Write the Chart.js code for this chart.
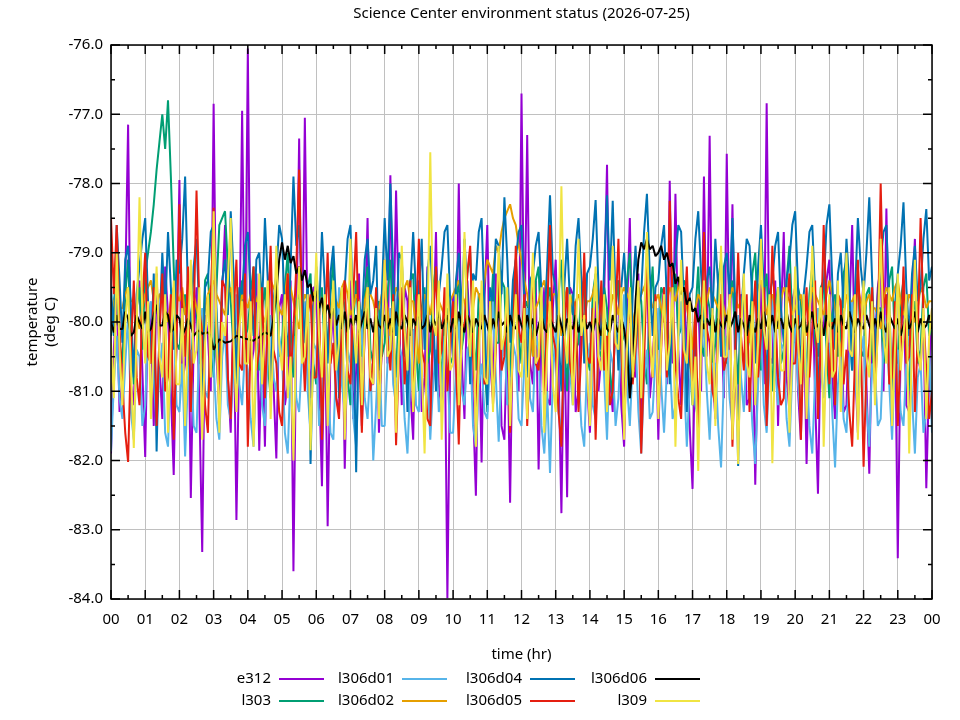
<!DOCTYPE html>
<html>
<head>
<meta charset="utf-8">
<script src="https://cdn.jsdelivr.net/npm/chart.js@4.4.1/dist/chart.umd.min.js"></script>
<style>
  body { margin: 0; background: #fff; }
  canvas { display: block; }
</style>
</head>
<body>
<canvas id="envChart" width="960" height="720"></canvas>
<script>
// sample times in hours, one reading every 5 minutes
const times = Array.from({ length: 289 }, (_, i) => i / 12);

const seriesNames = ['e312', 'l303', 'l306d01', 'l306d02', 'l306d04', 'l306d05', 'l306d06', 'l309'];
const seriesColors = ['#9400d3', '#009e73', '#56b4e9', '#e69f00', '#0072b2', '#e51e10', '#000000', '#f0e442'];

const e312 = [
  -81.9, -80.4, -79.6, -81.3, -80.8, -79.5, -77.15, -80.9, -81.2, -79.8, -79.4, -80.7, -81.95, -79.7, -80.1, -81.5, -79.3, -80.6, -81.4, -79.2, -79.9, -81.0, -82.21, -80.2,
  -77.95, -80.9, -80.6, -79.4, -82.54, -80.3, -79.5, -81.2, -83.32, -79.9, -80.2, -81.0, -76.85, -80.5, -81.3, -79.6, -78.6, -80.8, -81.6, -79.7, -82.86, -80.4, -76.95, -80.6,
  -76.05, -80.7, -80.4, -79.3, -81.86, -80.2, -81.8, -79.5, -79.2, -80.9, -81.97, -79.8, -79.6, -81.2, -80.9, -79.4, -83.6, -80.1, -77.35, -80.6, -77.05, -80.3, -81.1, -79.5,
  -79.5, -80.8, -82.37, -79.7, -82.95, -80.4, -79.8, -81.1, -81.3, -79.6, -82.12, -80.2, -79.4, -81.4, -80.7, -79.3, -81.5, -80.1, -78.5, -80.9, -80.9, -79.6, -81.6, -80.3,
  -79.3, -80.6, -77.88, -80.4, -78.1, -79.9, -81.2, -79.5, -79.7, -81.0, -81.7, -79.6, -79.4, -81.3, -80.8, -79.2, -81.5, -80.3, -78.7, -80.9, -81.3, -79.8, -83.99, -80.5,
  -79.6, -80.8, -78.0, -80.5, -81.4, -79.4, -80.2, -81.2, -82.51, -80.0, -82.03, -79.7, -78.6, -80.6, -81.1, -79.3, -79.8, -81.5, -81.7, -80.1, -82.61, -79.9, -79.2, -81.0,
  -76.7, -80.3, -77.3, -80.6, -80.9, -79.4, -82.13, -80.2, -79.5, -81.1, -81.2, -79.8, -79.1, -80.7, -82.76, -80.0, -82.53, -79.5, -79.6, -81.3, -81.0, -79.7, -79.3, -80.9,
  -81.6, -80.2, -79.7, -81.0, -80.5, -79.6, -77.73, -80.8, -81.3, -79.5, -79.4, -81.2, -81.8, -79.9, -78.5, -80.7, -80.8, -79.3, -81.5, -80.1, -79.0, -81.1, -80.6, -79.8,
  -81.7, -80.0, -79.5, -80.9, -77.96, -80.6, -78.15, -80.4, -81.2, -79.6, -80.3, -81.5, -82.41, -80.2, -79.6, -81.0, -77.9, -80.5, -77.31, -80.7, -81.4, -79.5, -79.8, -81.1,
  -77.57, -80.4, -78.3, -80.8, -81.6, -79.6, -79.7, -81.2, -81.1, -79.9, -82.35, -80.3, -79.4, -80.9, -76.84, -80.5, -80.6, -79.4, -81.5, -80.0, -78.7, -80.8, -81.3, -79.7,
  -79.5, -81.0, -81.7, -79.8, -82.05, -80.4, -79.3, -81.1, -82.48, -80.2, -80.1, -79.4, -79.1, -80.8, -81.4, -79.6, -79.8, -81.3, -81.2, -79.9, -78.6, -80.6, -81.6, -80.0,
  -79.4, -80.9, -82.19, -80.1, -80.3, -79.5, -79.2, -81.0, -78.36, -80.6, -81.5, -79.8, -83.41, -80.3, -79.6, -81.2, -81.3, -79.7, -78.8, -80.5, -80.7, -79.9, -82.4, -80.8,
  -79.8
];

const l303 = [
  -80.2, -79.7, -79.4, -80.3, -80.6, -79.6, -79.1, -80.2, -80.9, -79.8, -79.5, -80.4, -79.3, -79.0, -78.7, -78.3, -77.8, -77.4, -77.0, -77.5, -76.8, -77.9, -79.2, -80.3,
  -80.4, -79.9, -79.6, -80.5, -81.0, -79.7, -79.8, -80.6, -80.5, -79.4, -79.3, -80.1, -80.8, -79.5, -78.6, -78.5, -78.4, -79.2, -79.7, -80.4, -80.6, -79.8, -79.4, -80.2,
  -80.1, -79.6, -79.2, -80.3, -80.7, -79.8, -79.5, -80.6, -81.1, -79.9, -79.4, -80.5, -80.3, -79.5, -79.0, -80.2, -80.8, -79.7, -79.6, -80.4, -80.2, -79.5, -79.3, -80.6,
  -80.9, -79.9, -79.5, -80.5, -80.4, -79.6, -79.1, -80.3, -80.7, -79.5, -79.8, -80.8, -81.2, -80.0, -79.4, -80.2, -80.5, -79.6, -79.2, -80.4, -80.6, -79.8, -79.7, -80.5,
  -80.3, -79.6, -79.1, -80.2, -80.8, -79.7, -79.6, -80.5, -80.2, -79.4, -79.3, -80.4, -81.0, -79.8, -79.5, -80.6, -80.4, -79.5, -79.2, -80.1, -80.9, -79.9, -79.8, -80.6,
  -80.5, -79.7, -79.4, -80.4, -80.1, -79.3, -79.0, -80.2, -80.7, -79.6, -79.6, -80.5, -81.3, -80.1, -79.3, -80.3, -80.3, -79.4, -79.5, -80.6, -80.8, -79.7, -79.1, -80.2,
  -80.6, -79.8, -79.7, -80.5, -80.2, -79.4, -79.2, -80.3, -80.9, -79.7, -79.5, -80.6, -80.4, -79.6, -79.1, -80.2, -81.0, -79.9, -79.6, -80.4, -80.3, -79.5, -79.4, -80.5,
  -80.7, -79.6, -79.3, -80.4, -80.5, -79.5, -79.8, -80.7, -81.1, -79.8, -79.4, -80.3, -80.2, -79.4, -79.0, -80.1, -80.6, -79.5, -79.7, -80.5, -80.9, -79.8, -79.2, -80.3,
  -80.4, -79.5, -79.6, -80.6, -80.8, -79.7, -79.3, -80.2, -80.1, -79.4, -79.5, -80.5, -81.2, -79.9, -79.2, -80.3, -80.5, -79.6, -79.8, -80.7, -80.3, -79.4, -79.1, -80.2,
  -80.6, -79.7, -79.4, -80.3, -80.9, -79.8, -79.6, -80.5, -80.2, -79.3, -79.0, -80.1, -80.7, -79.6, -79.3, -80.4, -81.0, -79.8, -79.5, -80.6, -80.4, -79.4, -78.9, -80.0,
  -80.3, -79.5, -79.7, -80.6, -80.8, -79.6, -79.2, -80.3, -80.5, -79.5, -79.4, -80.4, -81.1, -79.9, -79.6, -80.5, -80.2, -79.3, -79.1, -80.2, -80.7, -79.7, -79.3, -80.4,
  -80.5, -79.6, -79.5, -80.4, -80.9, -79.8, -79.8, -80.6, -80.3, -79.4, -79.2, -80.3, -80.6, -79.7, -79.4, -80.5, -81.0, -79.9, -79.7, -80.6, -80.4, -79.5, -79.3, -80.2,
  -80.1
];

const l306d01 = [
  -81.87, -80.9, -80.2, -81.1, -81.4, -80.6, -79.9, -81.3, -81.7, -80.4, -80.5, -81.5, -81.2, -80.1, -79.7, -80.8, -81.5, -80.7, -80.3, -81.6, -81.8, -80.5, -80.0, -81.2,
  -81.3, -80.6, -81.94, -80.8, -80.4, -81.5, -81.6, -80.3, -79.8, -81.0, -81.1, -80.2, -80.6, -81.4, -81.7, -80.5, -80.1, -81.2, -81.4, -80.7, -79.6, -80.9, -81.2, -80.4,
  -80.7, -81.4, -81.8, -80.6, -80.3, -81.2, -81.5, -80.4, -79.9, -80.8, -81.0, -80.2, -80.5, -81.6, -81.9, -80.7, -80.2, -81.1, -81.3, -80.5, -79.7, -81.0, -81.6, -80.3,
  -80.4, -81.5, -81.1, -80.2, -80.8, -81.6, -81.7, -80.5, -79.5, -80.9, -81.3, -80.4, -80.6, -81.4, -81.8, -80.7, -80.0, -81.1, -81.4, -80.6, -82.0, -81.2, -80.3, -81.5,
  -81.5, -80.6, -79.8, -80.9, -81.2, -80.3, -80.5, -81.4, -81.9, -80.8, -80.1, -81.2, -81.3, -80.4, -79.6, -80.7, -81.7, -80.9, -80.4, -81.3, -81.0, -80.2, -80.7, -81.6,
  -81.6, -80.7, -79.9, -81.0, -81.2, -80.4, -80.3, -81.5, -81.8, -80.9, -80.6, -81.3, -81.4, -80.5, -79.7, -80.8, -81.73, -80.6, -80.2, -81.2, -81.1, -80.3, -80.5, -81.4,
  -81.5, -80.6, -79.8, -81.1, -81.3, -80.2, -80.4, -81.5, -81.9, -81.0, -82.18, -80.8, -80.1, -81.3, -81.6, -80.5, -79.5, -80.7, -81.2, -80.3, -80.7, -81.5, -81.8, -80.6,
  -80.3, -81.2, -81.4, -80.5, -79.9, -80.8, -81.7, -80.4, -80.6, -81.5, -81.1, -80.2, -79.6, -80.9, -81.5, -80.6, -80.2, -81.3, -81.9, -80.8, -80.4, -81.4, -81.3, -80.5,
  -79.8, -80.9, -81.6, -80.7, -80.5, -81.4, -81.2, -80.3, -79.7, -80.8, -81.8, -80.9, -80.3, -81.2, -81.4, -80.4, -80.0, -81.0, -81.7, -80.6, -80.6, -81.5, -82.1, -80.8,
  -80.2, -81.1, -81.5, -80.5, -79.9, -80.8, -81.3, -80.4, -80.7, -81.5, -82.05, -80.9, -80.1, -81.2, -81.6, -80.6, -79.6, -80.7, -81.2, -80.3, -80.4, -81.4, -81.8, -80.7,
  -80.0, -80.9, -81.4, -80.3, -80.6, -81.5, -81.9, -80.8, -79.8, -80.7, -81.1, -80.4, -80.3, -81.3, -82.1, -80.9, -80.5, -81.4, -81.6, -80.6, -79.7, -80.8, -81.3, -80.5,
  -80.2, -81.2, -81.8, -80.6, -80.7, -81.5, -81.4, -80.3, -79.9, -80.9, -81.7, -80.5, -80.4, -81.3, -81.5, -80.6, -80.1, -81.1, -81.9, -80.8, -80.6, -81.6, -81.3, -80.4,
  -81.6
];

const l306d02 = [
  -79.9, -79.7, -79.6, -79.8, -79.8, -79.6, -79.5, -79.7, -79.7, -79.9, -80.1, -79.8, -79.6, -79.5, -79.4, -79.7, -79.8, -79.6, -79.6, -79.8, -80.0, -79.7, -79.5, -79.6,
  -79.7, -79.5, -79.9, -79.7, -79.5, -79.6, -79.8, -80.0, -80.2, -79.8, -79.6, -79.5, -79.4, -79.6, -79.7, -79.8, -79.9, -79.6, -79.5, -79.8, -80.3, -79.9, -79.6, -79.7,
  -79.8, -79.6, -79.5, -79.7, -79.7, -79.9, -80.0, -79.7, -79.4, -79.5, -79.6, -79.8, -79.9, -79.6, -79.3, -79.5, -79.7, -79.9, -80.1, -79.8, -79.6, -79.7, -79.8, -79.6,
  -79.5, -79.6, -79.7, -80.0, -80.4, -79.9, -79.6, -79.7, -79.8, -79.5, -79.4, -79.6, -79.9, -79.8, -79.6, -79.7, -80.0, -79.7, -79.5, -79.6, -79.7, -79.9, -79.8, -79.6,
  -79.6, -79.8, -80.2, -79.7, -79.5, -79.6, -79.8, -79.5, -79.4, -79.7, -79.7, -80.1, -80.6, -79.9, -79.6, -79.7, -79.9, -79.6, -79.5, -79.7, -79.8, -79.9, -80.0, -79.7,
  -79.6, -79.5, -79.4, -79.6, -79.7, -79.9, -80.3, -79.8, -79.5, -79.6, -79.8, -79.4, -79.1, -79.2, -79.3, -78.9, -79.0, -78.7, -78.5, -78.4, -78.3, -78.5, -78.6, -78.9,
  -79.1, -79.4, -79.6, -79.9, -80.5, -79.8, -79.7, -79.5, -79.4, -79.7, -79.9, -79.6, -79.6, -79.8, -80.2, -79.7, -79.5, -79.6, -79.8, -79.7, -79.6, -79.8, -80.0, -79.7,
  -79.7, -79.6, -79.4, -79.7, -79.8, -80.2, -80.7, -79.9, -79.6, -79.7, -79.9, -79.6, -79.5, -79.6, -79.7, -79.9, -80.1, -79.8, -79.6, -79.5, -79.4, -79.6, -79.8, -79.7,
  -79.6, -79.8, -80.0, -79.7, -79.5, -79.6, -79.7, -79.5, -79.3, -79.6, -79.8, -80.0, -80.4, -79.8, -79.6, -79.7, -79.9, -79.7, -79.5, -79.6, -79.7, -79.8, -79.6, -79.8,
  -80.0, -79.7, -79.5, -79.6, -79.8, -79.7, -79.6, -79.9, -80.3, -79.8, -79.7, -79.5, -79.4, -79.6, -79.9, -79.7, -79.6, -79.8, -80.1, -79.7, -79.5, -79.6, -79.7, -79.9,
  -79.8, -79.7, -79.6, -79.9, -80.2, -79.8, -79.5, -79.6, -79.7, -79.8, -79.9, -79.6, -79.4, -79.6, -79.8, -80.1, -80.5, -79.9, -79.6, -79.7, -79.7, -79.6, -79.5, -79.7,
  -79.9, -79.7, -79.6, -79.8, -79.8, -79.9, -80.1, -79.7, -79.5, -79.6, -79.7, -79.5, -79.4, -79.7, -79.9, -79.8, -79.6, -79.7, -80.0, -79.8, -79.5, -79.6, -79.8, -79.7,
  -79.7
];

const l306d04 = [
  -79.5, -80.2, -78.6, -79.4, -80.3, -79.1, -78.9, -79.8, -80.8, -79.6, -79.2, -78.8, -78.5, -79.7, -80.6, -79.3, -81.87, -80.1, -79.0, -79.9, -78.7, -79.5, -80.4, -79.1,
  -79.3, -78.8, -77.9, -79.6, -80.1, -79.2, -78.8, -79.9, -81.2, -79.5, -79.4, -78.7, -78.6, -79.8, -80.7, -79.4, -79.1, -79.9, -78.4, -79.3, -80.9, -79.5, -79.6, -78.9,
  -78.7, -79.6, -80.2, -79.1, -79.0, -79.8, -78.5, -79.4, -81.0, -79.7, -79.3, -78.6, -78.8, -79.9, -80.5, -79.2, -77.9, -78.9, -78.6, -79.5, -80.3, -79.4, -82.05, -80.2,
  -79.2, -79.9, -78.7, -79.5, -80.6, -79.3, -78.9, -79.8, -81.1, -79.6, -79.5, -78.8, -78.6, -80.0, -82.17, -79.7, -80.0, -79.1, -78.8, -79.6, -79.4, -78.9, -80.7, -79.6,
  -78.5, -79.4, -78.0, -79.3, -80.2, -79.0, -79.1, -80.0, -81.3, -79.5, -78.7, -79.6, -79.6, -78.8, -80.4, -79.3, -78.9, -79.8, -81.0, -79.6, -79.2, -78.7, -78.6, -79.7,
  -80.5, -79.4, -79.0, -79.9, -78.8, -79.6, -80.9, -79.3, -79.4, -78.7, -78.5, -79.8, -81.2, -79.5, -79.7, -78.8, -78.9, -79.6, -78.2, -79.1, -80.3, -79.4, -79.1, -78.7,
  -78.6, -79.7, -80.8, -79.4, -79.3, -78.9, -78.7, -79.6, -80.1, -79.2, -78.17, -79.3, -79.5, -80.2, -81.0, -79.5, -78.8, -79.7, -79.9, -78.9, -78.5, -79.4, -80.6, -79.3,
  -79.2, -78.8, -78.24, -79.5, -80.4, -79.2, -78.17, -79.4, -78.25, -79.7, -80.7, -79.5, -79.0, -79.9, -81.1, -79.6, -78.9, -79.8, -79.6, -78.7, -78.15, -79.3, -80.2, -79.5,
  -79.4, -78.9, -78.6, -79.7, -80.9, -79.5, -79.1, -78.6, -78.7, -79.8, -81.3, -79.6, -79.5, -78.8, -78.4, -79.3, -80.0, -79.4, -79.2, -79.9, -78.8, -79.5, -80.5, -79.2,
  -79.0, -79.6, -78.5, -79.8, -82.08, -79.9, -79.3, -78.8, -78.9, -79.7, -80.6, -79.2, -78.6, -79.5, -81.0, -79.6, -79.4, -78.9, -78.7, -79.8, -80.3, -79.4, -79.1, -78.6,
  -78.4, -79.5, -80.8, -79.6, -79.2, -78.7, -78.6, -79.6, -81.2, -79.7, -79.5, -78.6, -78.3, -79.4, -80.4, -79.3, -79.0, -79.8, -78.8, -79.5, -80.7, -79.6, -78.5, -79.2,
  -79.6, -79.0, -78.2, -79.4, -80.5, -79.6, -79.1, -78.7, -78.6, -79.7, -81.0, -79.8, -79.3, -78.9, -78.27, -79.5, -80.2, -79.3, -78.9, -79.7, -79.5, -78.8, -78.37, -79.4,
  -79.2
];

const l306d05 = [
  -78.5, -79.6, -78.6, -80.1, -80.9, -81.6, -82.02, -80.4, -79.4, -80.8, -81.2, -79.7, -79.0, -80.5, -80.6, -79.5, -81.5, -80.2, -79.3, -81.0, -80.8, -79.6, -81.7, -80.3,
  -78.3, -79.9, -80.5, -79.2, -81.3, -80.0, -78.1, -79.8, -80.2, -81.2, -81.6, -79.7, -78.35, -80.3, -80.9, -79.4, -79.5, -80.8, -81.4, -79.9, -79.1, -80.6, -80.7, -79.3,
  -81.8, -80.3, -79.2, -80.7, -80.4, -79.5, -81.1, -80.0, -78.9, -80.4, -80.6, -81.3, -81.5, -80.1, -79.3, -80.8, -80.1, -79.2, -77.8, -80.0, -81.0, -79.9, -79.6, -80.8,
  -80.8, -79.7, -81.7, -80.2, -79.0, -80.6, -80.3, -81.1, -81.4, -79.9, -79.4, -80.7, -80.9, -79.6, -78.7, -80.3, -81.6, -80.1, -79.8, -81.0, -80.5, -79.5, -81.2, -80.4,
  -79.1, -80.2, -80.7, -79.6, -81.78, -80.5, -79.5, -80.9, -80.2, -79.4, -81.3, -80.0, -78.8, -80.4, -80.6, -81.4, -81.5, -79.9, -79.2, -80.6, -80.4, -79.5, -81.0, -80.3,
  -79.7, -80.6, -81.77, -80.0, -80.1, -79.3, -78.9, -80.5, -81.4, -80.2, -79.6, -80.9, -80.8, -79.7, -81.2, -80.4, -79.3, -80.7, -80.5, -79.6, -81.6, -80.3, -78.9, -80.1,
  -80.3, -79.6, -81.5, -80.4, -79.2, -80.6, -80.7, -79.8, -81.1, -79.9, -78.6, -80.2, -80.4, -81.3, -81.8, -80.1, -79.5, -80.6, -80.9, -79.7, -81.3, -80.4, -79.0, -80.5,
  -80.6, -79.8, -81.7, -80.3, -79.4, -80.7, -80.2, -81.2, -81.0, -79.9, -78.8, -80.4, -81.5, -80.2, -79.7, -80.9, -80.4, -79.5, -81.9, -80.6, -79.1, -80.3, -80.8, -79.6,
  -81.3, -80.4, -79.5, -80.8, -78.25, -79.7, -80.6, -81.1, -81.4, -80.0, -79.2, -80.5, -80.9, -79.8, -81.6, -80.3, -78.7, -80.1, -80.3, -81.0, -81.2, -80.2, -79.6, -80.7,
  -80.5, -79.7, -81.8, -80.4, -79.0, -80.2, -80.7, -79.6, -81.3, -80.1, -79.4, -80.8, -80.2, -79.5, -81.5, -80.3, -78.9, -80.0, -80.8, -81.2, -81.1, -79.8, -79.3, -80.6,
  -80.6, -79.9, -81.7, -80.2, -79.5, -80.8, -80.1, -79.4, -81.4, -80.3, -78.6, -79.9, -80.9, -80.0, -81.2, -79.6, -79.7, -80.9, -80.4, -81.3, -81.8, -80.5, -79.1, -80.2,
  -82.09, -80.7, -80.3, -79.5, -81.0, -80.1, -78.0, -79.8, -79.6, -80.9, -80.8, -79.7, -81.5, -80.4, -79.2, -80.6, -80.5, -79.6, -81.3, -80.2, -78.5, -79.9, -80.7, -81.4,
  -81.0
];

const l306d06 = [
  -80.0, -80.15, -79.9, -80.1, -80.1, -79.85, -79.95, -80.2, -80.15, -79.9, -80.0, -80.1, -79.85, -80.15, -80.1, -79.9, -79.75, -80.05, -80.05, -79.85, -79.9, -80.15, -80.1, -79.9,
  -79.95, -80.2, -80.1, -79.95, -80.05, -80.2, -80.15, -80.12, -80.17, -80.16, -80.15, -80.2, -80.4, -80.32, -80.25, -80.27, -80.3, -80.29, -80.28, -80.24, -80.2, -80.21, -80.22, -80.24,
  -80.25, -80.26, -80.27, -80.24, -80.22, -80.18, -80.15, -80.17, -80.2, -79.95, -79.6, -79.1, -78.85, -79.1, -78.9, -79.15, -79.05, -79.3, -79.2, -79.4, -79.25, -79.5, -79.45, -79.7,
  -79.55, -79.8, -79.65, -79.9, -79.75, -79.95, -79.8, -80.05, -79.9, -80.1, -79.85, -80.15, -79.95, -80.05, -79.9, -80.15, -80.0, -79.85, -80.1, -79.95, -80.15, -79.9, -80.05, -80.1,
  -79.9, -80.1, -79.95, -80.15, -79.85, -80.05, -80.1, -79.9, -80.0, -80.2, -79.95, -80.05, -79.85, -80.1, -80.05, -79.9, -80.15, -79.95, -80.05, -79.85, -80.1, -80.0, -79.9, -80.15,
  -79.95, -80.1, -79.85, -80.05, -80.15, -79.9, -80.0, -80.15, -79.95, -80.05, -80.1, -79.9, -80.05, -80.2, -79.95, -80.1, -79.85, -80.05, -80.0, -80.15, -79.9, -80.05, -80.1, -79.9,
  -80.05, -80.15, -79.9, -80.1, -79.95, -80.2, -80.05, -79.9, -80.1, -80.15, -79.95, -80.05, -80.15, -79.9, -80.05, -80.2, -79.95, -80.05, -80.1, -79.9, -80.15, -80.0, -79.95, -80.1,
  -80.0, -80.15, -79.95, -80.05, -80.2, -79.95, -80.1, -80.15, -79.9, -80.05, -80.15, -79.95, -80.1, -80.4, -81.1, -80.6, -79.7, -79.1, -78.85, -78.95, -78.8, -78.95, -78.9, -79.05,
  -79.0, -78.9, -79.1, -79.0, -79.2, -79.15, -79.45, -79.35, -79.6, -79.5, -79.75, -79.65, -79.85, -79.8, -80.0, -79.9, -80.1, -79.95, -80.05, -79.9, -80.15, -79.95, -80.05, -80.1,
  -79.9, -80.1, -80.0, -79.85, -80.15, -79.95, -80.05, -80.2, -79.9, -80.05, -80.15, -79.95, -80.1, -79.85, -80.05, -80.1, -79.9, -80.15, -80.0, -79.95, -80.1, -79.85, -80.05, -80.15,
  -79.95, -80.1, -80.05, -79.9, -80.15, -80.0, -79.85, -80.1, -80.05, -79.95, -80.2, -79.9, -80.05, -80.1, -79.95, -80.15, -79.9, -80.05, -80.1, -79.85, -80.0, -80.15, -79.95, -80.05,
  -80.1, -79.9, -80.05, -80.15, -79.95, -80.1, -79.85, -80.05, -80.15, -79.9, -80.0, -80.1, -79.95, -80.2, -80.05, -79.9, -80.1, -80.0, -79.85, -80.15, -79.95, -80.1, -80.05, -79.9,
  -80.1
];

const l309 = [
  -80.3, -81.1, -79.0, -80.4, -81.2, -80.0, -79.5, -80.7, -81.82, -80.1, -78.2, -79.9, -80.6, -79.7, -81.4, -80.2, -79.2, -80.5, -80.8, -79.6, -81.6, -80.3, -79.4, -80.9,
  -80.9, -79.8, -81.5, -80.2, -79.1, -80.6, -80.4, -79.5, -81.7, -80.3, -79.6, -80.8, -78.4, -80.1, -81.6, -80.0, -80.2, -79.4, -78.5, -80.3, -81.3, -80.1, -79.7, -80.6,
  -80.6, -79.7, -81.8, -80.4, -79.3, -80.9, -80.1, -79.4, -81.4, -80.2, -78.9, -80.3, -80.7, -79.6, -81.1, -80.5, -82.0, -80.1, -79.2, -80.6, -80.5, -79.6, -81.85, -80.4,
  -79.0, -80.2, -80.8, -79.6, -81.5, -80.3, -79.4, -80.7, -80.3, -79.5, -81.7, -80.4, -78.8, -80.0, -80.6, -79.7, -81.2, -80.1, -79.5, -80.8, -80.9, -79.8, -81.4, -80.2,
  -79.1, -80.5, -80.4, -79.7, -81.6, -80.3, -78.9, -80.1, -80.7, -79.5, -81.3, -80.4, -79.6, -80.6, -81.9, -80.2, -77.55, -80.0, -80.2, -79.4, -81.7, -80.5, -79.3, -80.7,
  -80.6, -79.6, -81.2, -80.3, -78.7, -80.0, -80.5, -79.4, -81.8, -80.6, -79.4, -80.8, -80.9, -79.7, -81.3, -80.2, -78.9, -80.4, -80.2, -79.5, -81.5, -80.3, -79.6, -80.7,
  -80.8, -79.8, -81.4, -80.2, -79.0, -80.6, -80.5, -79.5, -81.6, -80.4, -79.7, -80.9, -81.3, -80.0, -78.04, -80.1, -80.6, -79.6, -81.2, -80.3, -78.8, -80.2, -79.9, -80.7,
  -81.5, -80.2, -79.2, -80.5, -80.7, -79.6, -81.3, -80.1, -78.9, -80.3, -80.4, -79.5, -81.7, -80.4, -79.5, -80.8, -80.2, -79.4, -81.1, -80.0, -78.7, -80.2, -80.8, -79.7,
  -81.4, -80.3, -79.6, -80.7, -80.3, -79.5, -81.8, -80.2, -79.1, -80.4, -80.6, -79.7, -81.2, -80.5, -82.15, -80.3, -79.4, -80.6, -80.9, -79.8, -81.5, -80.1, -78.9, -80.5,
  -80.5, -79.6, -81.7, -80.4, -82.05, -80.2, -79.3, -80.6, -80.8, -79.7, -81.2, -80.3, -78.8, -80.1, -80.4, -79.6, -82.04, -80.3, -79.5, -80.7, -80.7, -79.5, -81.6, -80.4,
  -79.2, -80.3, -80.9, -79.6, -81.4, -80.1, -78.9, -80.0, -80.3, -79.5, -81.8, -80.4, -79.6, -80.8, -80.7, -79.4, -81.3, -80.2, -79.0, -80.4, -80.5, -79.6, -81.7, -80.3,
  -79.4, -80.5, -80.8, -79.7, -81.2, -80.1, -78.8, -80.2, -80.6, -79.5, -81.5, -80.4, -79.3, -80.7, -80.2, -79.6, -81.9, -80.3, -79.1, -80.4, -80.7, -79.8, -81.4, -80.2,
  -79.8
];

const seriesValues = [e312, l303, l306d01, l306d02, l306d04, l306d05, l306d06, l309];

const FONT = '"Noto Sans", "Open Sans", sans-serif';
Chart.defaults.font.family = FONT;
Chart.defaults.font.size = 15;
Chart.defaults.color = '#000';

// gnuplot-style frame with inward ticks on all four sides
const framePlugin = {
  id: 'frame',
  afterDatasetsDraw(chart) {
    const { ctx, chartArea: a, scales: { x, y } } = chart;
    ctx.save();
    ctx.strokeStyle = '#000';
    ctx.lineWidth = 1.5;
    ctx.beginPath();
    for (let h = 0; h <= 24; h += 0.5) {
      const px = x.getPixelForValue(h);
      const len = h % 1 === 0 ? 9 : 4;
      ctx.moveTo(px, a.bottom); ctx.lineTo(px, a.bottom - len);
      ctx.moveTo(px, a.top); ctx.lineTo(px, a.top + len);
    }
    for (let v = -84; v <= -76; v += 0.5) {
      const py = y.getPixelForValue(v);
      const len = v % 1 === 0 ? 9 : 4;
      ctx.moveTo(a.left, py); ctx.lineTo(a.left + len, py);
      ctx.moveTo(a.right, py); ctx.lineTo(a.right - len, py);
    }
    ctx.stroke();
    ctx.strokeRect(a.left, a.top, a.right - a.left, a.bottom - a.top);
    ctx.restore();
  }
};

// legend laid out in columns below the axis title, text then line sample
const legendPlugin = {
  id: 'gpLegend',
  afterDraw(chart) {
    const ctx = chart.ctx;
    const colRight = [271, 394, 522, 647];
    const rowY = [679, 701];
    ctx.save();
    ctx.font = '15px ' + FONT;
    ctx.textAlign = 'right';
    ctx.textBaseline = 'middle';
    chart.data.datasets.forEach((ds, i) => {
      const xr = colRight[Math.floor(i / 2)];
      const yy = rowY[i % 2];
      ctx.fillStyle = '#000';
      ctx.fillText(ds.label, xr, yy);
      ctx.strokeStyle = ds.borderColor;
      ctx.lineWidth = 2;
      ctx.beginPath();
      ctx.moveTo(xr + 8, yy);
      ctx.lineTo(xr + 53, yy);
      ctx.stroke();
    });
    ctx.restore();
  }
};

new Chart(document.getElementById('envChart'), {
  type: 'line',
  data: {
    datasets: seriesNames.map((name, i) => ({
      label: name,
      data: seriesValues[i].map((v, j) => ({ x: times[j], y: v })),
      borderColor: seriesColors[i],
      backgroundColor: seriesColors[i],
      borderWidth: 2,
      borderJoinStyle: 'bevel',
      pointRadius: 0,
      tension: 0,
      order: seriesNames.length - i
    }))
  },
  options: {
    responsive: false,
    animation: false,
    devicePixelRatio: 1,
    layout: { padding: { top: 0, right: 28, bottom: 0, left: 0 } },
    plugins: {
      legend: { display: false },
      tooltip: { enabled: false },
      title: {
        display: true,
        fullSize: false,
        text: 'Science Center environment status (2026-07-25)',
        font: { size: 15, weight: 'normal' },
        color: '#000',
        padding: { top: 5, bottom: 22 }
      }
    },
    scales: {
      x: {
        type: 'linear',
        min: 0,
        max: 24,
        border: { display: false },
        grid: { color: '#c0c0c0', lineWidth: 1, drawTicks: false },
        ticks: {
          stepSize: 1,
          autoSkip: false,
          maxRotation: 0,
          padding: 12,
          callback: v => String(v % 24).padStart(2, '0')
        },
        title: { display: true, text: 'time (hr)', padding: { top: 0, bottom: 56 } },
        afterFit: s => { s.height = 121; }
      },
      y: {
        min: -84,
        max: -76,
        border: { display: false },
        grid: { color: '#c0c0c0', lineWidth: 1, drawTicks: false },
        ticks: { stepSize: 1, padding: 8, callback: v => v.toFixed(1) },
        title: { display: true, text: ['temperature', '(deg C)'], padding: { top: 24, bottom: 0 } },
        afterFit: s => { s.width = 111; }
      }
    }
  },
  plugins: [framePlugin, legendPlugin]
});
</script>
</body>
</html>
